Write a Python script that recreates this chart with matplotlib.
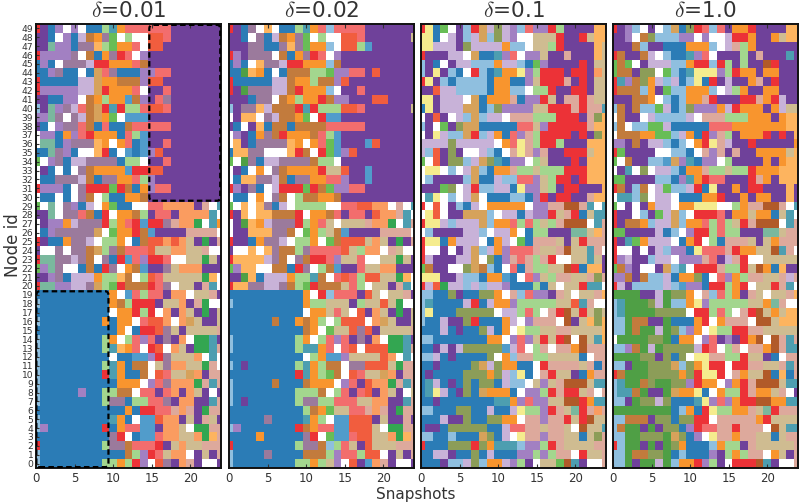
import numpy as np
import matplotlib
matplotlib.use('Agg')
import matplotlib.pyplot as plt
from matplotlib.colors import ListedColormap
from matplotlib.patches import FancyBboxPatch

plt.rcParams['mathtext.fontset'] = 'cm'

# one letter per community colour
palette = {
    'b': '#2b7cb6', 'l': '#8fbfdf', 'g': '#4f9f45', 'a': '#a3d68e', 'r': '#ec3237',
    'p': '#f26d6d', 'o': '#f8952e', 's': '#fdb45f', 'v': '#6f419a', 'm': '#a280c2',
    'c': '#c8b2d8', 'w': '#ffffff', 'n': '#b15a29', 'y': '#f5ec8e', 't': '#cfbc91',
    'q': '#9b7a9c', 'k': '#c27b3d', 'e': '#f15d3e', 'f': '#fa9c60', 'd': '#dda99c',
    'h': '#4d9eb0', 'i': '#519ccb', 'u': '#8c9d58', 'x': '#68bd56', 'z': '#33a651',
    'j': '#d6a25b', 'G': '#7ab89e',
}

titles = [r'$\delta$=0.01', r'$\delta$=0.02', r'$\delta$=0.1', r'$\delta$=1.0']

# rows listed from node 49 down to node 0, columns are snapshots 0..24
delta_001 = [
    "rvbmwmwbbahoppppppvvvvvvv", "vvbwmbckoqxwawweepvvvvvvv", "vvGmmbqqsaxoopweevvvvvvvv",
    "rmmmmqwkboqrpwmvvvvvvvvvv", "bmbwqqqcrrooopkvvvvvvvvvv", "bbmqbbwbjpqbbbmmppvvvvvvv",
    "rbbbbbccjookkkmeevvvvvvvv", "rmmmmmccjrooopwvvpvvvvvvv", "vvbbmmwkoaooikmvpqvvvvvvv",
    "lvGmqcpkjrhraapeepvvvvvvv", "mmGqwqckjoxwiiivvvvvvvvvv", "vbwmqqpkbpbbkpppppvvvvvvv",
    "wmmbomprooobpaivvvvvvvvvv", "wGGbmqqqsowopbivvpvvvvvvv", "bbGqmbwwsrbwibimevvvvvvvv",
    "xwmqbccqqqqbaawvvpvvvvvvv", "wvbwbwqkooooirreevvvvvvvv", "wbbqqqckbqqoopamvvvvvvvvv",
    "rmmmbwqrrrxrkbomppvvvvvvv", "wbbwbwqkwabbookvvvvvvvvvv", "xwGwqmbcwoxbbwwppffffvdwh",
    "vvGwqqpkbrwookavppvffffhw", "wvmmocqqqraoprirrqdffzwho", "wbmqqqqqjwxoorkivvvvddddw",
    "rvbboqqcwaaowbkeefeftvzvd", "vwwqwqqkjaqkpppettffttdww", "rGGqqcqkwqbripmrrpwwttztv",
    "xmGqwwbkbrqwokivvqtfffvvv", "vvmqbcccoaaskwaeptttttzsw", "rGGmmccqjaxrkkkrpqwttvdhw",
    "bbbbbbbbbbowipappvffwttdv", "lbbbbbbbbbokarrrvttfvdzww", "bbbbbbbbbbwoorarwfvftvzvt",
    "lbbbbbbbboboowpeefwfjtvvt", "bbbbbbbbbbbowbrreqtvttttd", "lbbbbbbbbaowapmpvqvfwzzhv",
    "lbbbbbbbbahsopwrewftvzzhd", "lbbbbbbbbbwbbiimrqtttfwhw", "lbbbbbbbbahobkkwtqffttzdw",
    "lbbbbbbbbrhobbkwepttjfvdd", "lbbbbbbbbbbooowmpqfffzdhd", "lbbbbbmbbaakkwppvpfvftvwv",
    "lbbbbbbbbaqqbaappqvffvvhd", "bbbbbbbbbbbbobrrppdfdvzdd", "lbbbbbbbbbhobwiieffvtvdtv",
    "lmbbbbbbbrboppiivfftwzzdd", "bbbbbbbbbbqrwbiipffttfzsd", "rbbbbbbbbaqqkppprvtfttddd",
    "lbbbbbbbbbbbkamrptffwvtvd", "lbbbbbbbbaaoarmweqvfdvwwv",
]

delta_002 = [
    "rvbqwswbbahoplppppvvvvvvv", "vvbwqbckoqxwawweepvvvvvvt", "vvvqqbbqsqxoolweeaivvvvvv",
    "rmvqqqwkboqrpwmvvvvvvvvvv", "bmbwsqqcrrooolkvvvvvvvvvv", "bbgsobwbkkkaaxmmppvevvvvv",
    "rbbbbbcckooakkmevvvvvvvvv", "rvgqqqcckrooolwvvpvvvvvvv", "vvvbqqwkoaoorkmmvvveevvvv",
    "lvqqsckkkrhraaaeepvvvvvvt", "wvsswqckkoxwriivvvvvvvvvv", "vbwvsbkkbkkkkpppppvvvvvvv",
    "wmvboqkroookpaivvvvvvvvvv", "wsvbqqqqsowopxivvvievvvvv", "bssqqwwwsrkwrximevvvvvvvv",
    "xwgqbccqqqqkaawvvvvvvvvvv", "wvbwowqkoooorttevvivvvvvv", "wbssqqckbqqooppmvvivvvvvv",
    "rmvqbwcrrrxrkxmmppvvvvvvv", "wbbwowqkwakkookvvvvvvvvvv", "xwswsqbcwaaaawwppeeffwdwh",
    "rvswsskkkrwookpvppveffdhw", "wvgsocqqqraoptwtttdffzwhd", "wvvsssqqkwxoatkivvvvddddw",
    "rvvboqqcwaaowxkeeetftvzvd", "vwwswsqkkaqppppetaffwdtww", "rsssscqkwqkrrpmttpwwttztv",
    "xmsswwkkbrqwakivvpttffvvv", "vvgsbcccoaahkwpepaeettzsw", "rssqqccqkaxrkkktpawttvdhw",
    "bbbbbbbbbbowrlpppvetwttdv", "lbbbbbbbbboaatttvattetzww", "bbbbbbbbbbwootptwevftvzvt",
    "bbbbbbkbbokoawaeeewfjtvvt", "bbbbbbbbbbkowxtteqevttttd", "lbbbbbbbbaowapmpvqvfwzzhv",
    "lbbbbbbbbahhopwpeweeezzhd", "bbbbbbbbbbwaoiimttttefwhw", "lbvbbbbbbahoakkwqqeeetzdd",
    "bbbbbbbbbrhoaxkwepttjfvdd", "lbbbbbkbbbkooowmpveffzdhd", "lbbbbbbbbaaakwapvpevftvwt",
    "lbvbbbbbbaqqaapppttffvvhd", "bbbbbbbbbbakoxttppdfdvzdd", "bbbbbqbbbbhoawiieeevtvvdv",
    "lmbbbbbbbrkoppiieeetwzzdd", "bbbbobbbbbqrwxiipeettfzsd", "rbbbbbbbbaqqklaptvetttddd",
    "lbbbbqbbbbkkkamppaeewvtvd", "lbbbbbbbbaaoatmwevifdvwwv",
]

delta_01 = [
    "rybxwvlrjcucmlpmmravvvvss", "yybwcvlcjlucmwwtttrvvrtss", "yycccvuccccollwttarvvvvst",
    "rvvvccwjbbhmpwmmtvvdvvvst", "lvbwvcclllocclbxmvvvvrvtt", "lvyvlbwrlbhooymarrrvrrvft",
    "ryvlbllllboobbmtrrrdvrvtt", "vveccllllboollwaarvvrrvtt", "yyvcccwjbooodbmmrtvddrdtt",
    "byvcccjjblummmmttrrrdrddh", "wvevwcljlccwdddaaarrrvdus", "lvwxvujjbbbbbpptmrrrrrdss",
    "wvyclljrlcobpmdarrrrvrvus", "ccccucccccwopydarravvvsss", "clevuvwwclbwdydmdvvrrrtss",
    "xwevuulcjuhbmmwatvvvrvsss", "wyywlwcjlboodaataaarrrsss", "wlvvvvljbbcllppmtarrvrsss",
    "vvvxuwcrllccbymmtavrrvvvs", "whywlwcjwbbbllbmrvrrvvdss", "rwewvlbcwooooowmmddnndhwh",
    "wyewvvjjjlwccbcmmrtdrbthh", "ryyclcccjloopapatadnnnwhd", "wlvvvvcclwccowbaavvvGGtsd",
    "ryybocccwbocwxbdddtvtrddd", "rwwvwvcjlcompppdttdntthdw", "rcvvvccjwubmdpdadrwwtthtv",
    "xkvvwwujklbwpbdaattnrbssv", "yyyvvcllbooibwpmtaddttdud", "rcezcclclccmbbbabtwttrhhw",
    "llbbuvbbuuowdlpmmvdtwttds", "lhbbbbcrbcoomaaaaattehdww", "lybbbuuuuuwccapawdrntrtut",
    "lbbcvvurbbbocwmdddwnvtsus", "bbbcbvbbucbowyaattddtttts", "llbbbbbbboowmpmtrtrnwnths",
    "bbvcvcuuuuuicpwadwddonddd", "llcbvbbbbuwolddaattttbwdd", "bbvbbbbujcuoobbwrddddtdbd",
    "bvbbbbuuuouclybwdrttvbodd", "bhcbvbubuubcllwtmtdnnnthh", "bhycbvubjooobwmmardrrtdwd",
    "bbvbbbbbbbhhompmmttnnrohh", "llbbbuubbcbbcyaamrdtGrdfd", "bbbcvvubbuuoowddmddrtrntt",
    "bvvbuuuuubbcppddtddtwntth", "llbblbbbjubcwyddmddttbtud", "rbbbuuuruohhhlmmardttttdd",
    "bbccvbbubcbbbmmamaddwrttd", "bbbvllculoocmavwttxnhvwwd",
]

delta_10 = [
    "rvmlwvwljburplpvoorvvvvss", "vvmwkulllmmwmwwcrrovvotss", "vvvklvvbbbooolwcdaovvvvvv",
    "rkvvkcwlbbhmpwvvvavdvvvhv", "xkxwvcccllorrlravavvnrvvv", "xkkvuuwxlbhyyymaroovoovvv",
    "rhmkuoclcblybrvcvvodvrvvv", "rkkklovxllooolwcaovvoovvv", "vvvkkowlbloodrvvvrrdorcvv",
    "lkvkllxcblummmocrooovoctt", "wkvvwcllllcwdddaaaooovoss", "lkwllxxcbbbbbpppoooooooss",
    "wkkkooxxlcobrmdavooorvrvs", "mmvkvcclblworydcvvrvvvvvo", "rxvvvvwwllbwdmdvdvvoooots",
    "xwkvvllijmhbmmwavvvvovoss", "wvhwuwcclboodaataarooosss", "xxvvvvllbmhorppvvvrdovsss",
    "rkvlkwcxllcrbyvvovrrvvvsv", "whhluwccwbbboorvvovoovvsv", "xwvwvoccwooyyywwaoddnndwh",
    "rvvwlvxcjlwrrrpvootoobthw", "rvkkolccjloopapatrdnnnwhd", "xxvvvvcblwmrrapaavvvGGtdd",
    "rvhxocccwborwabdddtvtoddd", "rwwvwvclmmbypppdroottnhdw", "rmcvvlccwmmmdpvcdrwwttttt",
    "xkmvwwvjlhwrrrdaartnobsvv", "mmkvkllcbooubwpmoaddttdcd", "rcvllllclimmbrraorwttrdhw",
    "ggggvvcguuowdlpaovdtwttds", "lhgggucgllOymaaaaattoGdww".replace('O', 'o'), "lhgggguuuuwrrapawdrntotss",
    "llgkkvvgbbborwodddwnntsss", "llgkggcgulmowyaarrddttttt", "wgggguugboowmpvmvronwndhd",
    "llmkgcguuuucrpwadwddondhh", "gggguuvubuwyyddaarttvbwdd", "llvgguuujluoyrrwrrddttdhd",
    "rkggguuuuouryyrwdottnbsbd", "lhggkugguumroowmordnnnthh", "lhhkgvvgjooybwoaardootdwv",
    "llvguucubbbhympmorrnnoohh", "ggggggggblobryaaoodtGrddd", "llkkkvuubuurrwdddddortttt",
    "lkggvgvuubmrppddrdddwnthh", "llgguuugjubmwyddoddttbtdd", "rlggvgvguobbbloaavdtttttd",
    "llgkkuugblbbbmvaoaddwotvd", "llgvggcgloormavwrrrnhvwwd",
]

panels = [delta_001, delta_002, delta_01, delta_10]
panel_left = [36, 229, 421, 613]
panel_width = 185
top_px, bottom_px = 24, 468

letters = list(palette.keys())
cmap = ListedColormap([palette[k] for k in letters])
xticks = [0, 5, 10, 15, 20]
node_ids = list(range(50))

fig = plt.figure(figsize=(8, 5.04), dpi=100)
axes = []
for i, rows in enumerate(panels):
    ax = fig.add_axes([panel_left[i] / 800, 1 - bottom_px / 504,
                       panel_width / 800, (bottom_px - top_px) / 504])
    grid = np.array([[letters.index(ch) for ch in row] for row in rows[::-1]])
    ax.imshow(grid, cmap=cmap, vmin=0, vmax=len(letters) - 1, origin='lower',
              aspect='auto', interpolation='nearest')
    ax.set_xlim(0, 24)
    ax.set_ylim(-0.5, 49.5)
    ax.set_xticks(xticks)
    ax.tick_params(axis='x', labelsize=8.5, direction='in', length=3, pad=3,
                   top=True, colors='#333333')
    if i == 0:
        ax.set_yticks(node_ids)
        ax.tick_params(axis='y', labelsize=6.6, direction='in', length=2, pad=2,
                       colors='#333333')
    else:
        ax.set_yticks([])
    for sp in ax.spines.values():
        sp.set_linewidth(1.4)
        sp.set_color('#111111')
    ax.set_title(titles[i], fontsize=15.5, color='#333333', pad=5)
    axes.append(ax)

# dashed boxes around the two planted communities
boxes = [(14.7, 29.6, 9.2, 19.8), (0.05, -0.4, 9.35, 19.8)]
for x, y, w, h in boxes:
    axes[0].add_patch(FancyBboxPatch((x, y), w, h, boxstyle='round,pad=0,rounding_size=0.4',
                                     mutation_aspect=1.1, fill=False, ec='black',
                                     lw=1.6, ls=(0, (2.5, 1.5)), zorder=5))

fig.text(13 / 800, 1 - 245 / 504, 'Node id', fontsize=12, rotation=90, ha='center',
         va='center', color='#333333')
fig.text(416 / 800, 1 - 495 / 504, 'Snapshots', fontsize=11, ha='center', va='center',
         color='#333333')

fig.savefig('out.png', dpi=100)
